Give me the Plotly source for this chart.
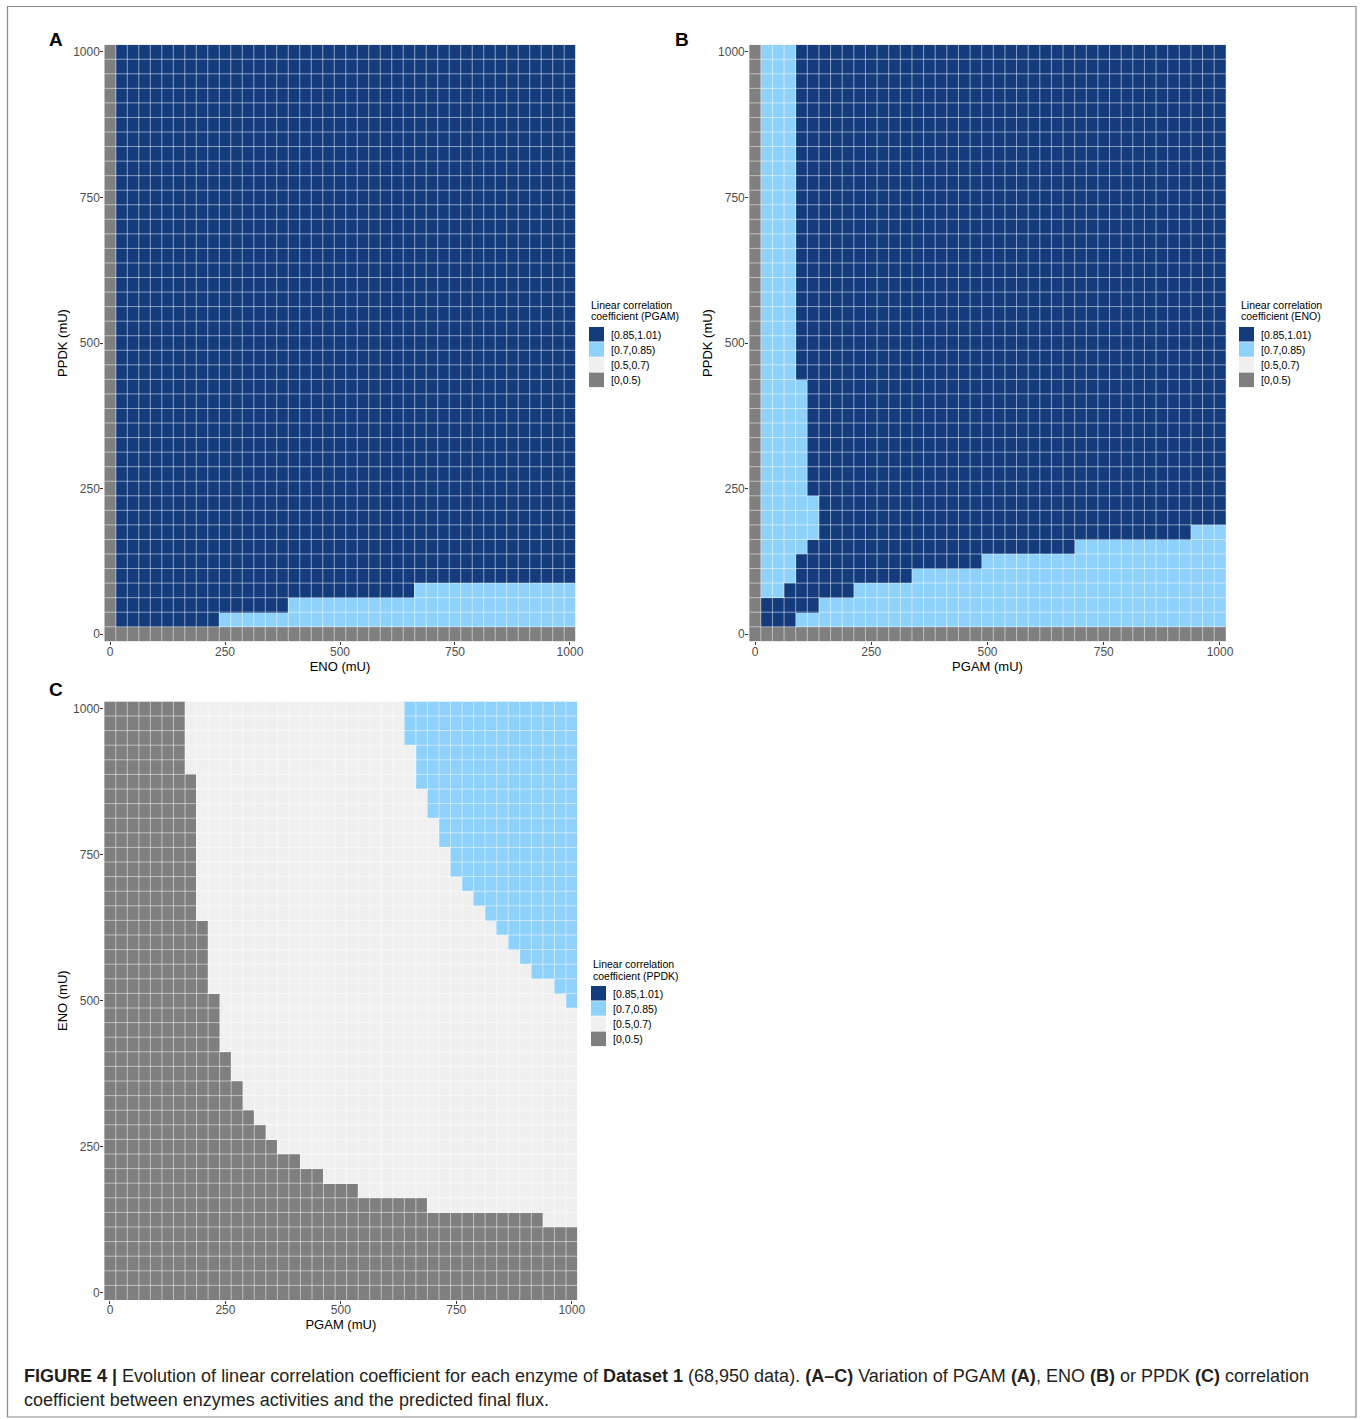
import plotly.graph_objects as go

# ---------------- data ----------------
levels = [0, 25, 50, 75, 100, 125, 150, 175, 200, 225, 250, 275, 300, 325, 350,
          375, 400, 425, 450, 475, 500, 525, 550, 575, 600, 625, 650, 675, 700,
          725, 750, 775, 800, 825, 850, 875, 900, 925, 950, 975, 1000]
tick_vals = [0, 250, 500, 750, 1000]

class_labels = ["[0,0.5)", "[0.5,0.7)", "[0.7,0.85)", "[0.85,1.01)"]
class_codes = {"G": 0, "W": 1, "L": 2, "D": 3}
class_colors = ["#7F7F7F", "#F0F0F0", "#8ED1FA", "#143C7D"]

# rows listed from y=0 upwards: (number of repeated rows, runs along x)
pgam_rows = [(1, "G41"), (1, "G1 D9 L31"), (1, "G1 D15 L25"), (1, "G1 D26 L14"),
             (37, "G1 D40")]
eno_rows = [(1, "G41"), (1, "G1 D3 L37"), (1, "G1 D5 L35"), (1, "G1 L2 D6 L32"),
            (1, "G1 L3 D10 L27"), (1, "G1 L3 D16 L21"), (1, "G1 L4 D23 L13"),
            (1, "G1 L5 D32 L3"), (2, "G1 L5 D35"), (8, "G1 L4 D36"), (23, "G1 L3 D37")]
ppdk_rows = [(5, "G41"), (1, "G38 W3"), (1, "G28 W13"), (1, "G22 W19"), (1, "G19 W22"),
             (1, "G17 W24"), (1, "G15 W26"), (1, "G14 W27"), (1, "G13 W28"),
             (2, "G12 W29"), (2, "G11 W30"), (3, "G10 W31"), (1, "G10 W30 L1"),
             (1, "G9 W30 L2"), (1, "G9 W28 L4"), (1, "G9 W27 L5"), (1, "G9 W26 L6"),
             (1, "G9 W25 L7"), (1, "G8 W25 L8"), (1, "G8 W24 L9"), (1, "G8 W23 L10"),
             (2, "G8 W22 L11"), (2, "G8 W21 L12"), (2, "G8 W20 L13"), (1, "G8 W19 L14"),
             (2, "G7 W20 L14"), (3, "G7 W19 L15")]

legend_title_line1 = "Linear correlation"
legend_title_line2 = ["coefficient (PGAM)", "coefficient (ENO)", "coefficient (PPDK)"]
x_titles = ["ENO (mU)", "PGAM (mU)", "PGAM (mU)"]
y_titles = ["PPDK (mU)", "PPDK (mU)", "ENO (mU)"]
panel_letters = ["A", "B", "C"]

caption_line1 = ("<b>FIGURE 4 |</b> Evolution of linear correlation coefficient for each enzyme of "
                 "<b>Dataset 1</b> (68,950 data). <b>(A–C)</b> Variation of PGAM <b>(A)</b>, "
                 "ENO <b>(B)</b> or PPDK <b>(C)</b> correlation")
caption_line2 = "coefficient between enzymes activities and the predicted final flux."

# ---------------- helpers ----------------
W, H = 1360, 1419
W_EFF = 1352  # horizontal compensation observed in the rendered page


def expand(rows):
    z = []
    for rep, runs in rows:
        row = []
        for tok in runs.split():
            row += [class_codes[tok[0]]] * int(tok[1:])
        for _ in range(rep):
            z.append(list(row))
    return z


def px_x(p):
    return p / W_EFF


def px_y(p):
    return 1 - p / H


colorscale = []
for i, c in enumerate(class_colors):
    colorscale += [[i / 4, c], [(i + 1) / 4, c]]

# panel geometry in pixels: (left, right, top, bottom)
panels = [(104.3, 575.7, 44.7, 641.3),
          (749.2, 1225.8, 44.7, 641.3),
          (104.2, 577.5, 701.4, 1300.0)]
legend_pos = [(589, 299), (1239, 299), (591, 958)]
letter_pos = [(56, 40), (682, 40), (56, 690)]

fig = go.Figure()
datasets = [pgam_rows, eno_rows, ppdk_rows]
font_family = "Liberation Sans, Arial, sans-serif"
step = levels[1] - levels[0]
edges = [levels[0] - step / 2] + [(a + b) / 2 for a, b in zip(levels[:-1], levels[1:])] + [levels[-1] + step / 2]
edge_color = "rgba(255,255,255,0.5)"

for i, rows in enumerate(datasets):
    ax = "" if i == 0 else str(i + 1)
    fig.add_trace(go.Heatmap(
        x=levels, y=levels, z=expand(rows),
        zmin=-0.5, zmax=3.5, colorscale=colorscale, showscale=False,
        hoverinfo="x+y+z",
        xaxis="x" + ax, yaxis="y" + ax))
    # tile borders (semi-transparent white, like ggplot tile outlines)
    for e in edges[1:-1]:
        fig.add_shape(type="line", xref="x" + ax, yref="y" + ax,
                      x0=e, x1=e, y0=edges[0], y1=edges[-1],
                      line=dict(color=edge_color, width=1), layer="above")
        fig.add_shape(type="line", xref="x" + ax, yref="y" + ax,
                      x0=edges[0], x1=edges[-1], y0=e, y1=e,
                      line=dict(color=edge_color, width=1), layer="above")
    l, r, t, b = panels[i]
    axis_common = dict(range=[edges[0], edges[-1]], tickvals=tick_vals, ticks="outside",
                       ticklen=3, tickwidth=1, tickcolor="#333333",
                       showgrid=False, zeroline=False, showline=False,
                       tickfont=dict(size=12, color="#4D4D4D", family=font_family))
    fig.update_layout({
        "xaxis" + ax: dict(domain=[px_x(l), px_x(r)], anchor="y" + ax,
                           ticklabelstandoff=-4,
                           title=dict(text=x_titles[i], standoff=2,
                                      font=dict(size=13, color="black", family=font_family)),
                           **axis_common),
        "yaxis" + ax: dict(domain=[px_y(b), px_y(t)], anchor="x" + ax,
                           ticklabelstandoff=-2,
                           title=dict(text=y_titles[i], standoff=2,
                                      font=dict(size=13, color="black", family=font_family)),
                           **axis_common),
    })

    # legend (drawn per panel)
    lx, ly = legend_pos[i]
    for j, txt in enumerate([legend_title_line1, legend_title_line2[i]]):
        fig.add_annotation(x=px_x(lx), y=px_y(ly + 6 + 11.5 * j), xref="paper", yref="paper",
                           text=txt, showarrow=False, xanchor="left", yanchor="middle",
                           align="left",
                           font=dict(size=10.5, color="black", family=font_family))
    key_top = ly + 28
    order = [3, 2, 1, 0]
    for k, cls in enumerate(order):
        y0 = key_top + k * 15.2
        fig.add_shape(type="rect", xref="paper", yref="paper",
                      x0=px_x(lx), x1=px_x(lx + 15), y0=px_y(y0), y1=px_y(y0 + 14.5),
                      fillcolor=class_colors[cls], line=dict(width=0))
        fig.add_annotation(x=px_x(lx + 20), y=px_y(y0 + 7.5), xref="paper", yref="paper",
                           text=class_labels[cls], showarrow=False, xanchor="left",
                           yanchor="middle",
                           font=dict(size=10.5, color="black", family=font_family))

    px, py = letter_pos[i]
    fig.add_annotation(x=px_x(px), y=px_y(py), xref="paper", yref="paper",
                       text="<b>%s</b>" % panel_letters[i], showarrow=False,
                       xanchor="center", yanchor="middle",
                       font=dict(size=19, color="black", family=font_family))

# caption
fig.add_annotation(x=px_x(22), y=px_y(1376), xref="paper", yref="paper", text=caption_line1,
                   showarrow=False, xanchor="left", yanchor="middle",
                   font=dict(size=18, color="#231F20", family=font_family))
fig.add_annotation(x=px_x(22), y=px_y(1400), xref="paper", yref="paper", text=caption_line2,
                   showarrow=False, xanchor="left", yanchor="middle",
                   font=dict(size=18, color="#231F20", family=font_family))

# outer frame
fig.add_shape(type="rect", xref="paper", yref="paper",
              x0=px_x(7.5), x1=px_x(1356), y0=px_y(1417), y1=px_y(6.5),
              line=dict(color="#8C8C8C", width=1.2), fillcolor="rgba(0,0,0,0)")

fig.update_layout(width=W, height=H, margin=dict(l=0, r=0, t=0, b=0),
                  paper_bgcolor="white", plot_bgcolor="white", showlegend=False,
                  font=dict(family=font_family))

fig.write_html("out.html",
               config={"displayModeBar": False, "responsive": False},
               post_script=("document.body.style.margin='0';"
                            "document.body.style.overflow='hidden';"
                            "document.documentElement.style.overflow='hidden';"))
